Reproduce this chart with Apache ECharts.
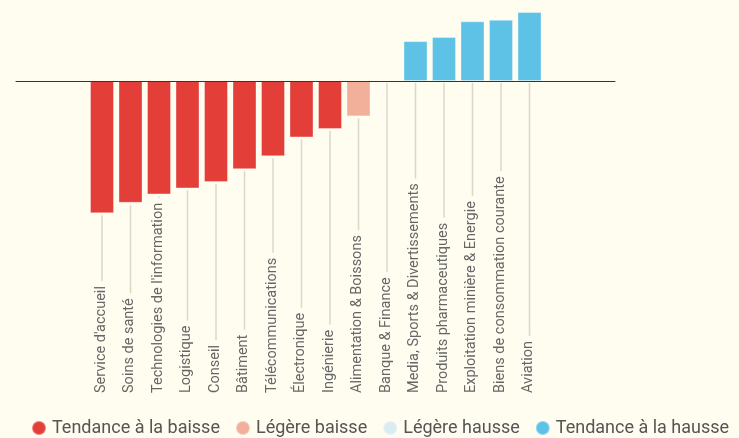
<!DOCTYPE html>
<html>
<head>
<meta charset="utf-8">
<script src="https://cdn.jsdelivr.net/npm/echarts@6/dist/echarts.min.js"></script>
<style>
  html, body { margin: 0; padding: 0; background: #fffdf0; }
  #chart { width: 739px; height: 438px; }
</style>
</head>
<body>
<div id="chart"></div>
<script>
// secteurs et tendance
var categories = [
  "Service d'accueil", "Soins de santé", "Technologies de l'information", "Logistique",
  "Conseil", "Bâtiment", "Télécommunications", "Électronique", "Ingénierie",
  "Alimentation & Boissons", "Banque & Finance", "Media, Sports & Divertissements",
  "Produits pharmaceutiques", "Exploitation minière & Energie",
  "Biens de consommation courante", "Aviation"
];
var values = [-44.1, -40.6, -37.8, -35.8, -33.7, -29.4, -25.1, -18.8, -16, -11.8, 0, 13.3, 14.7, 19.9, 20.4, 23];
// 0 = baisse, 1 = légère baisse, 2 = légère hausse, 3 = hausse
var trend = [0, 0, 0, 0, 0, 0, 0, 0, 0, 1, 2, 3, 3, 3, 3, 3];
var trendNames = ["Tendance à la baisse", "Légère baisse", "Légère hausse", "Tendance à la hausse"];

var colors = ["#e33e38", "#f2b09a", "#d9ecf2", "#5ec2e7"];
var bg = "#fffdf0";

var chart = echarts.init(document.getElementById('chart'));

var barSeries = trendNames.map(function (name, t) {
  return {
    name: name,
    type: 'bar',
    barWidth: 24,
    barGap: '-100%',
    itemStyle: { color: colors[t], borderColor: 'rgba(255,255,255,0.35)', borderWidth: 1 },
    emphasis: { disabled: true },
    data: values.map(function (v, i) { return trend[i] === t ? v : '-'; })
  };
});

// trait vertical + libellé
function renderLabel(params, api) {
  var idx = api.value(0);
  var val = api.value(1);
  var zero = api.coord([idx, 0]);
  var end = api.coord([idx, val]);
  var x = zero[0];
  var top = Math.max(zero[1], end[1]) + 2;
  var bottom = params.coordSys.y + params.coordSys.height;
  return {
    type: 'group',
    children: [
      { type: 'line', shape: { x1: x, y1: top, x2: x, y2: bottom },
        style: { stroke: '#dcd8c8', lineWidth: 1.5 } },
      { type: 'text', x: x - 1, y: bottom, rotation: Math.PI / 2,
        style: { text: categories[idx], fill: '#666', fontSize: 14.5, fontFamily: 'Roboto',
                 align: 'left', verticalAlign: 'middle', backgroundColor: bg, padding: [0, 5, 0, 0] } }
    ]
  };
}

var option = {
  backgroundColor: bg,
  animation: false,
  legend: {
    data: trendNames,
    icon: 'circle',
    left: 31,
    top: 419,
    itemWidth: 14,
    itemHeight: 14,
    itemGap: 15,
    padding: 0,
    textStyle: { color: '#555', fontSize: 18, fontFamily: 'Roboto', padding: [0, 0, 0, 1] }
  },
  grid: [
    { left: 87.75, right: 195.25, top: 6, bottom: 45 },
    { left: 16, right: 124, top: 6, bottom: 45 }
  ],
  xAxis: [
    { type: 'category', gridIndex: 0, data: categories, axisLine: { show: false },
      axisTick: { show: false }, axisLabel: { show: false } },
    { type: 'category', gridIndex: 1, data: [''], axisLine: { onZero: true, lineStyle: { color: '#333', width: 1 } },
      axisTick: { show: false }, axisLabel: { show: false }, z: 10 }
  ],
  yAxis: [
    { type: 'value', gridIndex: 0, min: -104, max: 25, show: false, splitLine: { show: false } },
    { type: 'value', gridIndex: 1, min: -104, max: 25, show: false, splitLine: { show: false } }
  ],
  series: barSeries.concat([{
    type: 'custom',
    renderItem: renderLabel,
    encode: { x: 0, y: 1 },
    silent: true,
    data: values.map(function (v, i) { return [i, v]; })
  }])
};

chart.setOption(option);
</script>
</body>
</html>
